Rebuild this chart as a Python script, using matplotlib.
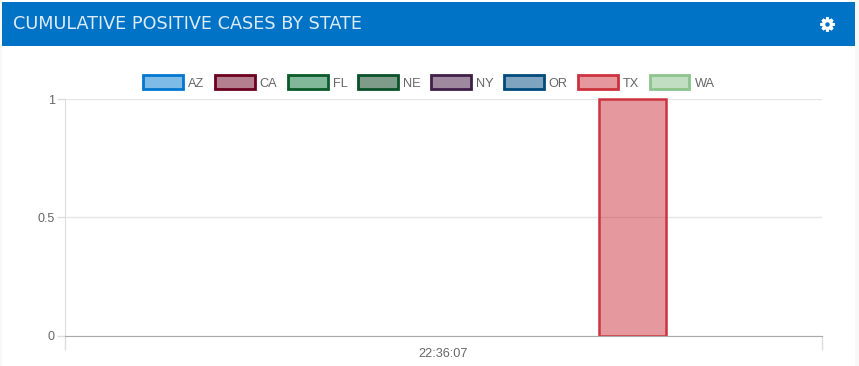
import matplotlib
matplotlib.use('Agg')
import matplotlib.pyplot as plt
from matplotlib.patches import Patch, Rectangle
from matplotlib.lines import Line2D

# Chart data
states = ['AZ', 'CA', 'FL', 'NE', 'NY', 'OR', 'TX', 'WA']
cases = [0, 0, 0, 0, 0, 0, 1, 0]
time_label = '22:36:07'
y_ticks = [0, 0.5, 1]
y_tick_labels = ['0', '0.5', '1']
title = 'CUMULATIVE POSITIVE CASES BY STATE'

edge_colors = ['#0277cf', '#6b0020', '#0a5a2a', '#0a5028', '#3f1f47', '#004b7c', '#cc333f', '#8cc48e']
fill_colors = ['#0079d180', '#6b002080', '#05733580', '#00391580', '#3f153f80', '#004b8180', '#cc323c80', '#85bf8980']

W, H = 859, 366
plt.rcParams['font.family'] = ['Liberation Sans', 'DejaVu Sans']
fig = plt.figure(figsize=(W / 100, H / 100), dpi=100, facecolor='#f8f8f8')

# Card and header
fig.patches.append(Rectangle((2 / W, 0), 853 / W, 1, transform=fig.transFigure, facecolor='white', edgecolor='none', zorder=-2))
fig.patches.append(Rectangle((2 / W, 1 - 46 / H), 853 / W, 44 / H, transform=fig.transFigure, facecolor='#0073c6', edgecolor='none', zorder=-1))
fig.text(13 / W, 1 - 24 / H, title, color='#dcebf6', fontsize=12.7, family='DejaVu Sans', va='center', ha='left')

# Settings icon
gx, gy = 827 / W, 1 - 24 / H
fig.add_artist(Line2D([gx], [gy], marker=(8, 2, 0), markersize=10, markeredgewidth=2.2, markeredgecolor='white', transform=fig.transFigure))
fig.add_artist(Line2D([gx], [gy], marker='o', markersize=7, markerfacecolor='white', markeredgecolor='white', transform=fig.transFigure))
fig.add_artist(Line2D([gx], [gy], marker='o', markersize=3.2, markerfacecolor='#0073c6', markeredgecolor='none', transform=fig.transFigure))

# Plot area
ax = fig.add_axes([64.5 / W, 1 - 335.7 / H, 757.5 / W, 236.7 / H])
ax.set_facecolor('none')
ax.set_xlim(-0.5, 0.5)
ax.set_ylim(0, 1)

# Grouped bars inside the single time category, 0.8 category and 0.9 bar share
group = 0.8 / len(states)
clip = Rectangle((0, 0), 1, 1.02, transform=ax.transAxes)
for i, state in enumerate(states):
    if cases[i] == 0:
        continue
    bar = ax.bar(-0.4 + group * (i + 0.5), cases[i], width=group * 0.89,
                 facecolor=fill_colors[i], edgecolor=edge_colors[i], linewidth=1.8, zorder=2)[0]
    bar.set_clip_path(clip)

ax.set_yticks(y_ticks)
ax.set_yticklabels(y_tick_labels)
ax.set_xticks([0])
ax.set_xticklabels([time_label])
ax.set_xticks([-0.5, 0.5], minor=True)
ax.tick_params(axis='y', length=6, width=1, color='#dddddd', labelcolor='#666666', labelsize=9, pad=1)
ax.tick_params(axis='x', which='major', length=0, labelcolor='#666666', labelsize=9.2, pad=9)
ax.tick_params(axis='x', which='minor', length=10, width=1, color='#dddddd')
ax.grid(axis='y', color='#e6e6e6', linewidth=1, zorder=0)
ax.set_axisbelow(True)

for side in ['top', 'right']:
    ax.spines[side].set_visible(False)
ax.spines['left'].set_color('#dddddd')
ax.spines['bottom'].set_color('#aaaaaa')
ax.spines['bottom'].set_zorder(5)

# Legend
handles = [Patch(facecolor=fill_colors[i], edgecolor=edge_colors[i], linewidth=2, label=states[i]) for i in range(len(states))]
ax.legend(handles=handles, ncol=len(states), frameon=False, loc='center',
          bbox_to_anchor=(429 / W, 1 - 82.5 / H), bbox_transform=fig.transFigure,
          fontsize=9.2, labelcolor='#666666', handlelength=3.1, handleheight=1.3,
          handletextpad=0.4, columnspacing=0.83, borderpad=0, borderaxespad=0)

fig.savefig('out.png', dpi=100, facecolor=fig.get_facecolor())
